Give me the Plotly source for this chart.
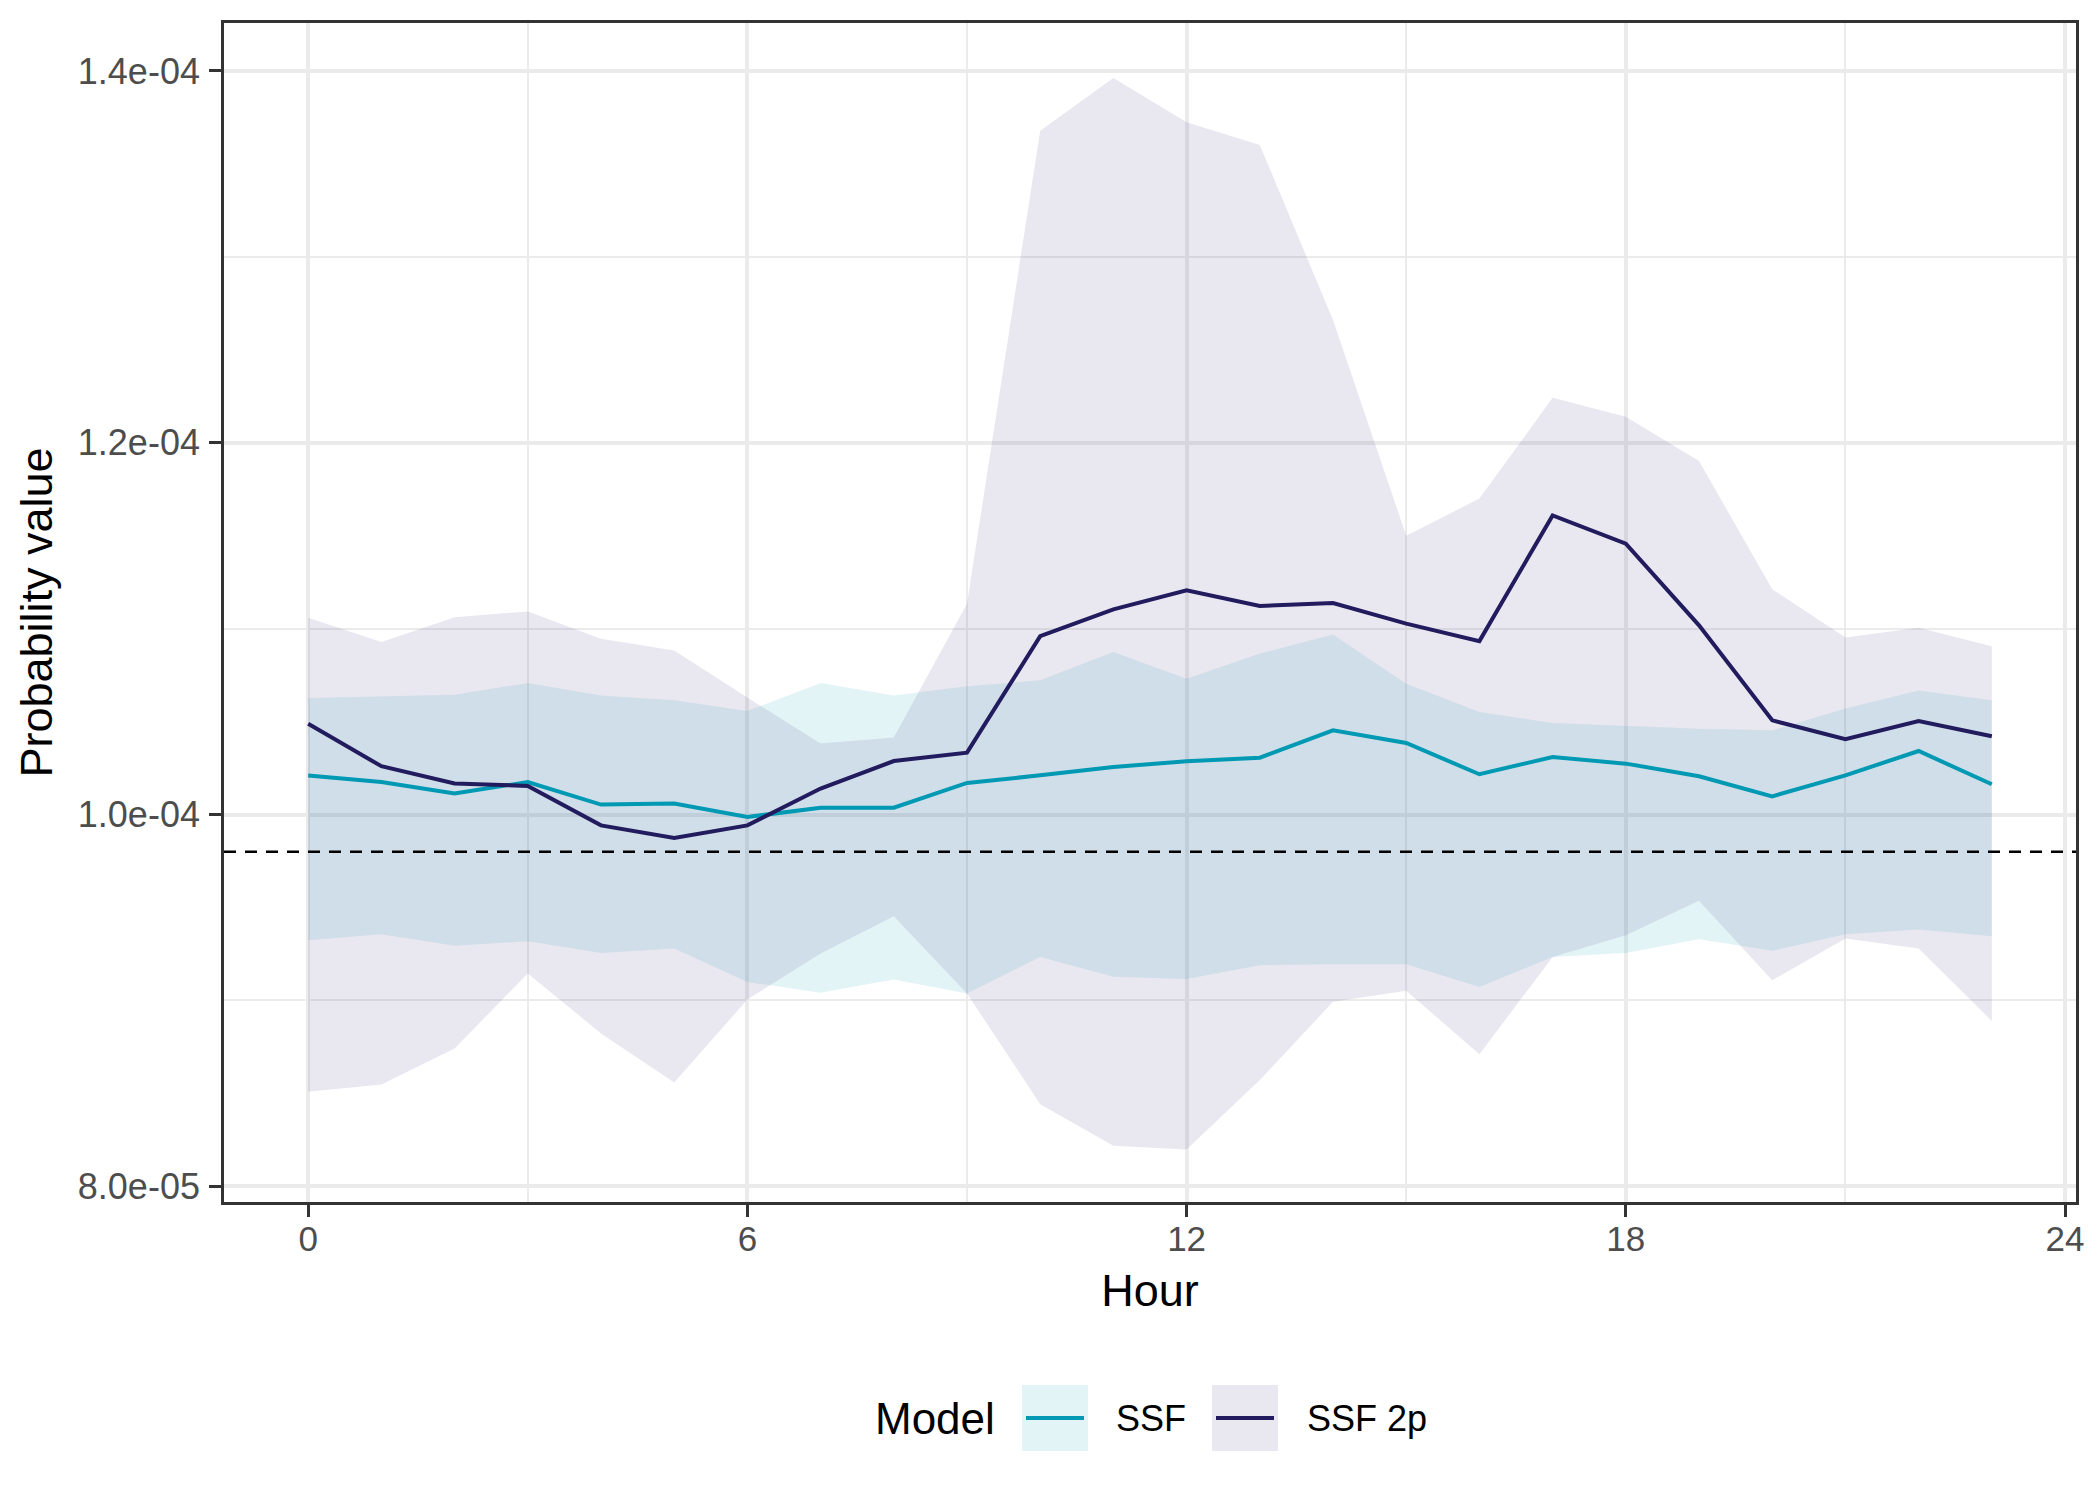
import plotly.graph_objects as go

# ---------------- data ----------------
hours = list(range(24))

ssf_mean = [102.10e-6, 101.75e-6, 101.13e-6, 101.75e-6, 100.54e-6, 100.59e-6,
            99.87e-6, 100.37e-6, 100.37e-6, 101.70e-6, 102.11e-6, 102.56e-6,
            102.87e-6, 103.06e-6, 104.53e-6, 103.85e-6, 102.17e-6, 103.10e-6,
            102.74e-6, 102.06e-6, 100.98e-6, 102.11e-6, 103.42e-6, 101.63e-6]
ssf_upper = [106.27e-6, 106.36e-6, 106.45e-6, 107.08e-6, 106.41e-6, 106.15e-6,
             105.57e-6, 107.08e-6, 106.41e-6, 106.90e-6, 107.22e-6, 108.74e-6,
             107.31e-6, 108.66e-6, 109.69e-6, 107.04e-6, 105.52e-6, 104.92e-6,
             104.78e-6, 104.62e-6, 104.53e-6, 105.70e-6, 106.68e-6, 106.15e-6]
ssf_lower = [93.24e-6, 93.56e-6, 92.94e-6, 93.19e-6, 92.56e-6, 92.80e-6,
             91.00e-6, 90.41e-6, 91.13e-6, 90.38e-6, 92.34e-6, 91.27e-6,
             91.16e-6, 91.90e-6, 91.95e-6, 91.95e-6, 90.73e-6, 92.34e-6,
             92.56e-6, 93.30e-6, 92.67e-6, 93.56e-6, 93.82e-6, 93.46e-6]

ssf2p_mean = [104.89e-6, 102.60e-6, 101.67e-6, 101.54e-6, 99.42e-6, 98.74e-6,
              99.42e-6, 101.40e-6, 102.88e-6, 103.33e-6, 109.60e-6, 111.04e-6,
              112.06e-6, 111.22e-6, 111.38e-6, 110.27e-6, 109.33e-6, 116.09e-6,
              114.57e-6, 110.18e-6, 105.07e-6, 104.05e-6, 105.03e-6, 104.21e-6]
ssf2p_upper = [110.59e-6, 109.28e-6, 110.62e-6, 110.93e-6, 109.46e-6, 108.83e-6,
               106.30e-6, 103.82e-6, 104.14e-6, 111.34e-6, 136.79e-6, 139.62e-6,
               137.24e-6, 136.02e-6, 126.60e-6, 115.00e-6, 117.00e-6, 122.42e-6,
               121.40e-6, 119.02e-6, 112.12e-6, 109.52e-6, 110.05e-6, 109.06e-6]
ssf2p_lower = [85.09e-6, 85.48e-6, 87.42e-6, 91.45e-6, 88.23e-6, 85.59e-6,
               90.05e-6, 92.53e-6, 94.53e-6, 90.38e-6, 84.42e-6, 82.18e-6,
               81.99e-6, 85.72e-6, 89.93e-6, 90.52e-6, 87.11e-6, 92.34e-6,
               93.51e-6, 95.37e-6, 91.09e-6, 93.33e-6, 92.80e-6, 88.90e-6]

reference_value = 9.8e-5

x_ticks = [0, 6, 12, 18, 24]
x_minor = [3, 9, 15, 21]
y_ticks = [8.0e-5, 1.0e-4, 1.2e-4, 1.4e-4]
y_minor = [9.0e-5, 1.1e-4, 1.3e-4]
y_ticktext = [f"{v:.1e}" for v in y_ticks]

models = ["SSF", "SSF 2p"]
line_colors = {"SSF": "#0099B4", "SSF 2p": "#221B5E"}
fill_colors = {"SSF": "rgba(0,153,180,0.11)", "SSF 2p": "rgba(40,30,110,0.10)"}

# ---------------- figure ----------------
# page body has an 8px default margin, so the figure is 8px smaller and margins shifted
OFF = 8
W, H = 2100 - OFF, 1500 - OFF
L, R, T, B = 224 - OFF, 24, 23 - OFF, 298
FONT = "Liberation Sans, Arial, sans-serif"

fig = go.Figure()

series = {
    "SSF": (ssf_mean, ssf_upper, ssf_lower),
    "SSF 2p": (ssf2p_mean, ssf2p_upper, ssf2p_lower),
}

for m in models:
    mean, up, lo = series[m]
    fig.add_trace(go.Scatter(
        x=hours + hours[::-1], y=up + lo[::-1],
        fill="toself", fillcolor=fill_colors[m],
        line=dict(width=0), mode="lines", hoverinfo="skip",
        showlegend=False))

for m in models:
    mean, up, lo = series[m]
    fig.add_trace(go.Scatter(
        x=hours, y=mean, mode="lines", name=m,
        line=dict(color=line_colors[m], width=4),
        showlegend=False))

fig.add_hline(y=reference_value, line=dict(color="black", width=2.4, dash="12px,9px"),
              layer="above")

grid_major = "#EBEBEB"
fig.update_xaxes(
    range=[-1.15, 24.15], tickvals=x_ticks, ticktext=[str(v) for v in x_ticks],
    showgrid=True, gridcolor=grid_major, gridwidth=3.6,
    minor=dict(tickvals=x_minor, showgrid=True, gridcolor=grid_major, gridwidth=1.8, ticklen=0),
    showline=True, linecolor="#333333", linewidth=2.7, mirror=True,
    ticks="outside", ticklen=12, tickwidth=2.7, tickcolor="#333333",
    tickfont=dict(family=FONT, size=35, color="#4D4D4D"),
    ticklabelstandoff=-8,
    zeroline=False,
    title=dict(text="Hour", font=dict(family=FONT, size=45, color="black"), standoff=18),
)
fig.update_yaxes(
    range=[7.916e-5, 1.4258e-4], tickvals=y_ticks, ticktext=y_ticktext,
    showgrid=True, gridcolor=grid_major, gridwidth=3.6,
    minor=dict(tickvals=y_minor, showgrid=True, gridcolor=grid_major, gridwidth=1.8, ticklen=0),
    showline=True, linecolor="#333333", linewidth=2.7, mirror=True,
    ticks="outside", ticklen=12, tickwidth=2.7, tickcolor="#333333",
    tickfont=dict(family=FONT, size=36, color="#4D4D4D"),
    ticklabelstandoff=2,
    zeroline=False,
    title=dict(text="Probability value", font=dict(family=FONT, size=45, color="black"), standoff=12),
)

# ---------------- manual legend (ggplot style keys) ----------------
pw, ph = W - L - R, H - T - B


def px_x(px):
    # px given in screenshot coordinates
    return (px - OFF - L) / pw


def px_y(py):
    return (H - B - (py - OFF)) / ph


legend_y = 1418
fig.add_annotation(x=px_x(873), y=px_y(legend_y), xref="paper", yref="paper",
                   text="Model", showarrow=False, xanchor="left", yanchor="middle",
                   font=dict(family=FONT, size=44, color="black"))
key_left = {"SSF": 1022, "SSF 2p": 1212}
label_left = {"SSF": 1114, "SSF 2p": 1305}
key_size = 66
for m in models:
    kx = key_left[m]
    fig.add_shape(type="rect", xref="paper", yref="paper",
                  x0=px_x(kx), x1=px_x(kx + key_size),
                  y0=px_y(legend_y + key_size / 2), y1=px_y(legend_y - key_size / 2),
                  fillcolor=fill_colors[m], line=dict(width=0), layer="above")
    fig.add_shape(type="line", xref="paper", yref="paper",
                  x0=px_x(kx + 4), x1=px_x(kx + key_size - 4),
                  y0=px_y(legend_y), y1=px_y(legend_y),
                  line=dict(color=line_colors[m], width=4), layer="above")
    fig.add_annotation(x=px_x(label_left[m]), y=px_y(legend_y), xref="paper", yref="paper",
                       text=m, showarrow=False, xanchor="left", yanchor="middle",
                       font=dict(family=FONT, size=36, color="black"))

fig.update_layout(
    width=W, height=H,
    margin=dict(l=L, r=R, t=T, b=B, autoexpand=False),
    paper_bgcolor="white", plot_bgcolor="white",
    font=dict(family=FONT),
    showlegend=False,
)

fig.write_html("out.html")
